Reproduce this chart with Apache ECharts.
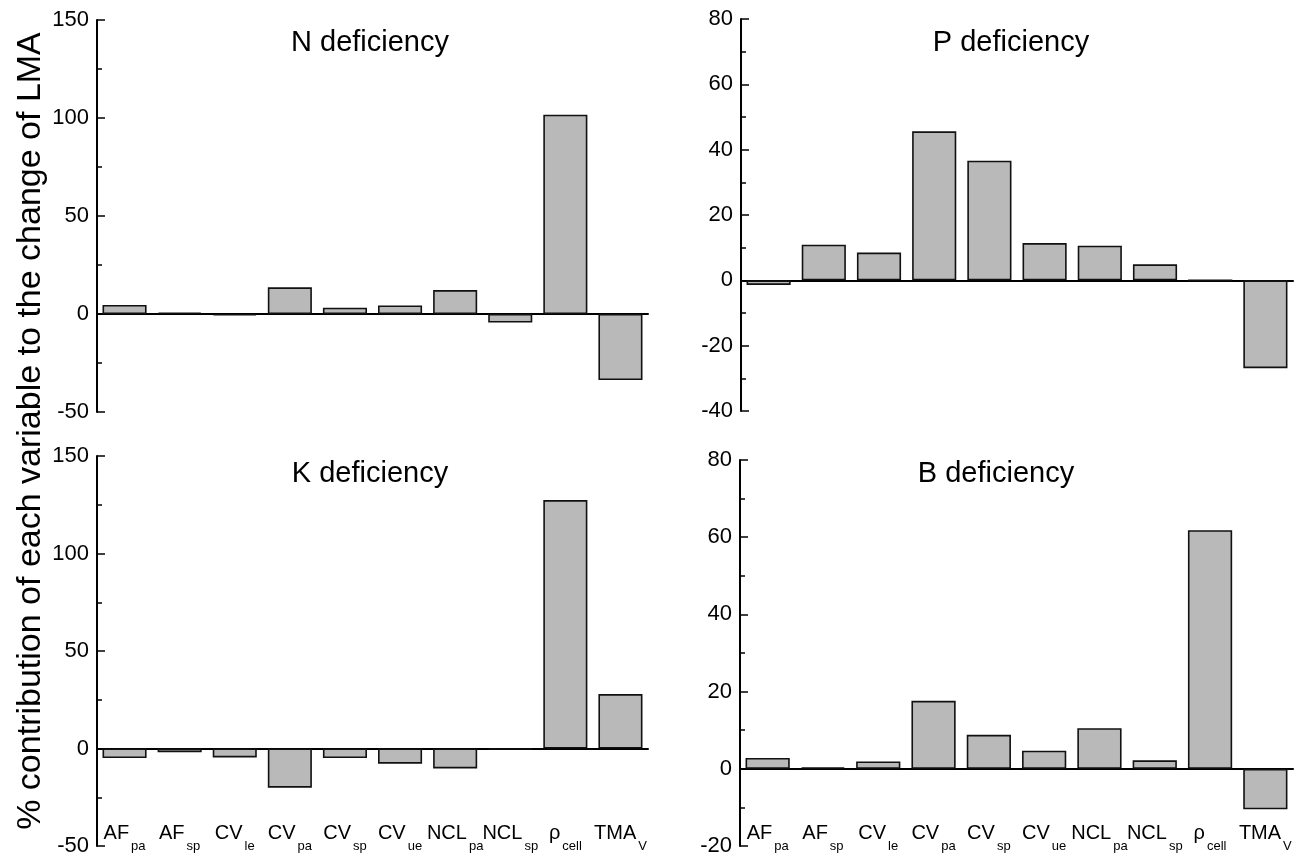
<!DOCTYPE html>
<html>
<head>
<meta charset="utf-8">
<script src="https://cdn.jsdelivr.net/npm/echarts@6/dist/echarts.min.js"></script>
<style>
  html, body { margin: 0; padding: 0; background: #fff; }
  #chart { width: 1297px; height: 855px; }
</style>
</head>
<body>
<div id="chart"></div>
<script>
// variable names, split in main text + subscript
const varNames = ['AF', 'AF', 'CV', 'CV', 'CV', 'CV', 'NCL', 'NCL', 'ρ', 'TMA'];
const varSubs = ['pa', 'sp', 'le', 'pa', 'sp', 'ue', 'pa', 'sp', 'cell', 'V'];
const categories = varNames.map((n, i) => n + '_' + varSubs[i]);

// % contribution of each variable
const nDef = [4.6, 0.8, -0.7, 13.6, 3.2, 4.4, 12.2, -4.4, 101.7, -33.7];
const pDef = [-1.4, 10.9, 8.5, 45.6, 36.6, 11.4, 10.6, 4.9, 0, -26.9];
const kDef = [-4.9, -1.9, -4.6, -20.1, -4.9, -7.8, -10.2, -0.5, 127.4, 27.9];
const bDef = [2.8, 0.4, 1.9, 17.6, 8.8, 4.7, 10.5, 2.2, 61.8, -10.5];

// y ranges [min, max, interval]
const nRange = [-50, 150, 50];
const pRange = [-40, 80, 20];
const kRange = [-50, 150, 50];
const bRange = [-20, 80, 20];

const panelTitles = ['N deficiency', 'P deficiency', 'K deficiency', 'B deficiency'];
const yTitle = '% contribution of each variable to the change of LMA';

const FONT = 'Liberation Sans, Arial, Helvetica, sans-serif';

const panels = [
  { data: nDef, range: nRange, grid: { left: 97, top: 20, width: 551, height: 392 }, title: [370, 43], labels: false },
  { data: pDef, range: pRange, grid: { left: 741, top: 19, width: 552, height: 392 }, title: [1011, 43], labels: false },
  { data: kDef, range: kRange, grid: { left: 97, top: 456, width: 551, height: 390 }, title: [370, 474], labels: true },
  { data: bDef, range: bRange, grid: { left: 740, top: 460, width: 553, height: 386 }, title: [996, 474], labels: true }
];

const chart = echarts.init(document.getElementById('chart'), null, { renderer: 'canvas' });

const grid = [], xAxis = [], yAxis = [], series = [], title = [];

panels.forEach(function (p, i) {
  grid.push(Object.assign({ outerBoundsMode: 'none', containLabel: false }, p.grid));

  title.push({
    text: panelTitles[i],
    left: p.title[0],
    top: p.title[1],
    textAlign: 'center',
    textVerticalAlign: 'middle',
    padding: 0,
    textStyle: { fontFamily: FONT, fontSize: 29, fontWeight: 'normal', color: '#000' }
  });

  // axis line at zero
  xAxis.push({
    type: 'category',
    gridIndex: i,
    data: categories,
    axisLine: { onZero: true, lineStyle: { color: '#000', width: 2 } },
    axisTick: { show: false },
    axisLabel: { show: false },
    splitLine: { show: false }
  });
  // labels along the bottom of the frame
  xAxis.push({
    type: 'category',
    gridIndex: i,
    position: 'bottom',
    data: categories,
    axisLine: { show: false, onZero: false },
    axisTick: { show: false },
    splitLine: { show: false },
    axisLabel: {
      show: p.labels,
      interval: 0,
      margin: -23,
      formatter: function (v, idx) {
        return '{m|' + varNames[idx] + '}{s|' + varSubs[idx] + '}';
      },
      rich: {
        m: { fontFamily: FONT, fontSize: 20, color: '#000', lineHeight: 24, verticalAlign: 'top' },
        s: { fontFamily: FONT, fontSize: 13, color: '#000', lineHeight: 13, padding: [17, 0, 0, 2], verticalAlign: 'top' }
      }
    }
  });

  yAxis.push({
    type: 'value',
    gridIndex: i,
    min: p.range[0],
    max: p.range[1],
    interval: p.range[2],
    axisLine: { show: true, lineStyle: { color: '#000', width: 2 } },
    axisTick: { show: true, inside: true, length: 8, lineStyle: { color: '#000', width: 1.5 } },
    minorTick: { show: true, splitNumber: 2, length: 5, lineStyle: { color: '#000', width: 1.5 } },
    splitLine: { show: false },
    minorSplitLine: { show: false },
    axisLabel: { fontFamily: FONT, fontSize: 22, color: '#000', margin: 8 }
  });

  series.push({
    type: 'bar',
    xAxisIndex: i * 2,
    yAxisIndex: i,
    data: p.data,
    barWidth: '80%',
    itemStyle: { color: '#b9b9b9', borderColor: '#111', borderWidth: 1.6 },
    emphasis: { disabled: true },
    z: 3
  });
});

chart.setOption({
  backgroundColor: '#ffffff',
  animation: false,
  title: title,
  grid: grid,
  xAxis: xAxis,
  yAxis: yAxis,
  series: series,
  graphic: [{
    type: 'text',
    x: 31,
    y: 431,
    rotation: Math.PI / 2,
    style: {
      text: yTitle,
      fontFamily: FONT,
      fontSize: 34,
      fill: '#000',
      align: 'center',
      verticalAlign: 'middle'
    }
  }]
});
</script>
</body>
</html>
